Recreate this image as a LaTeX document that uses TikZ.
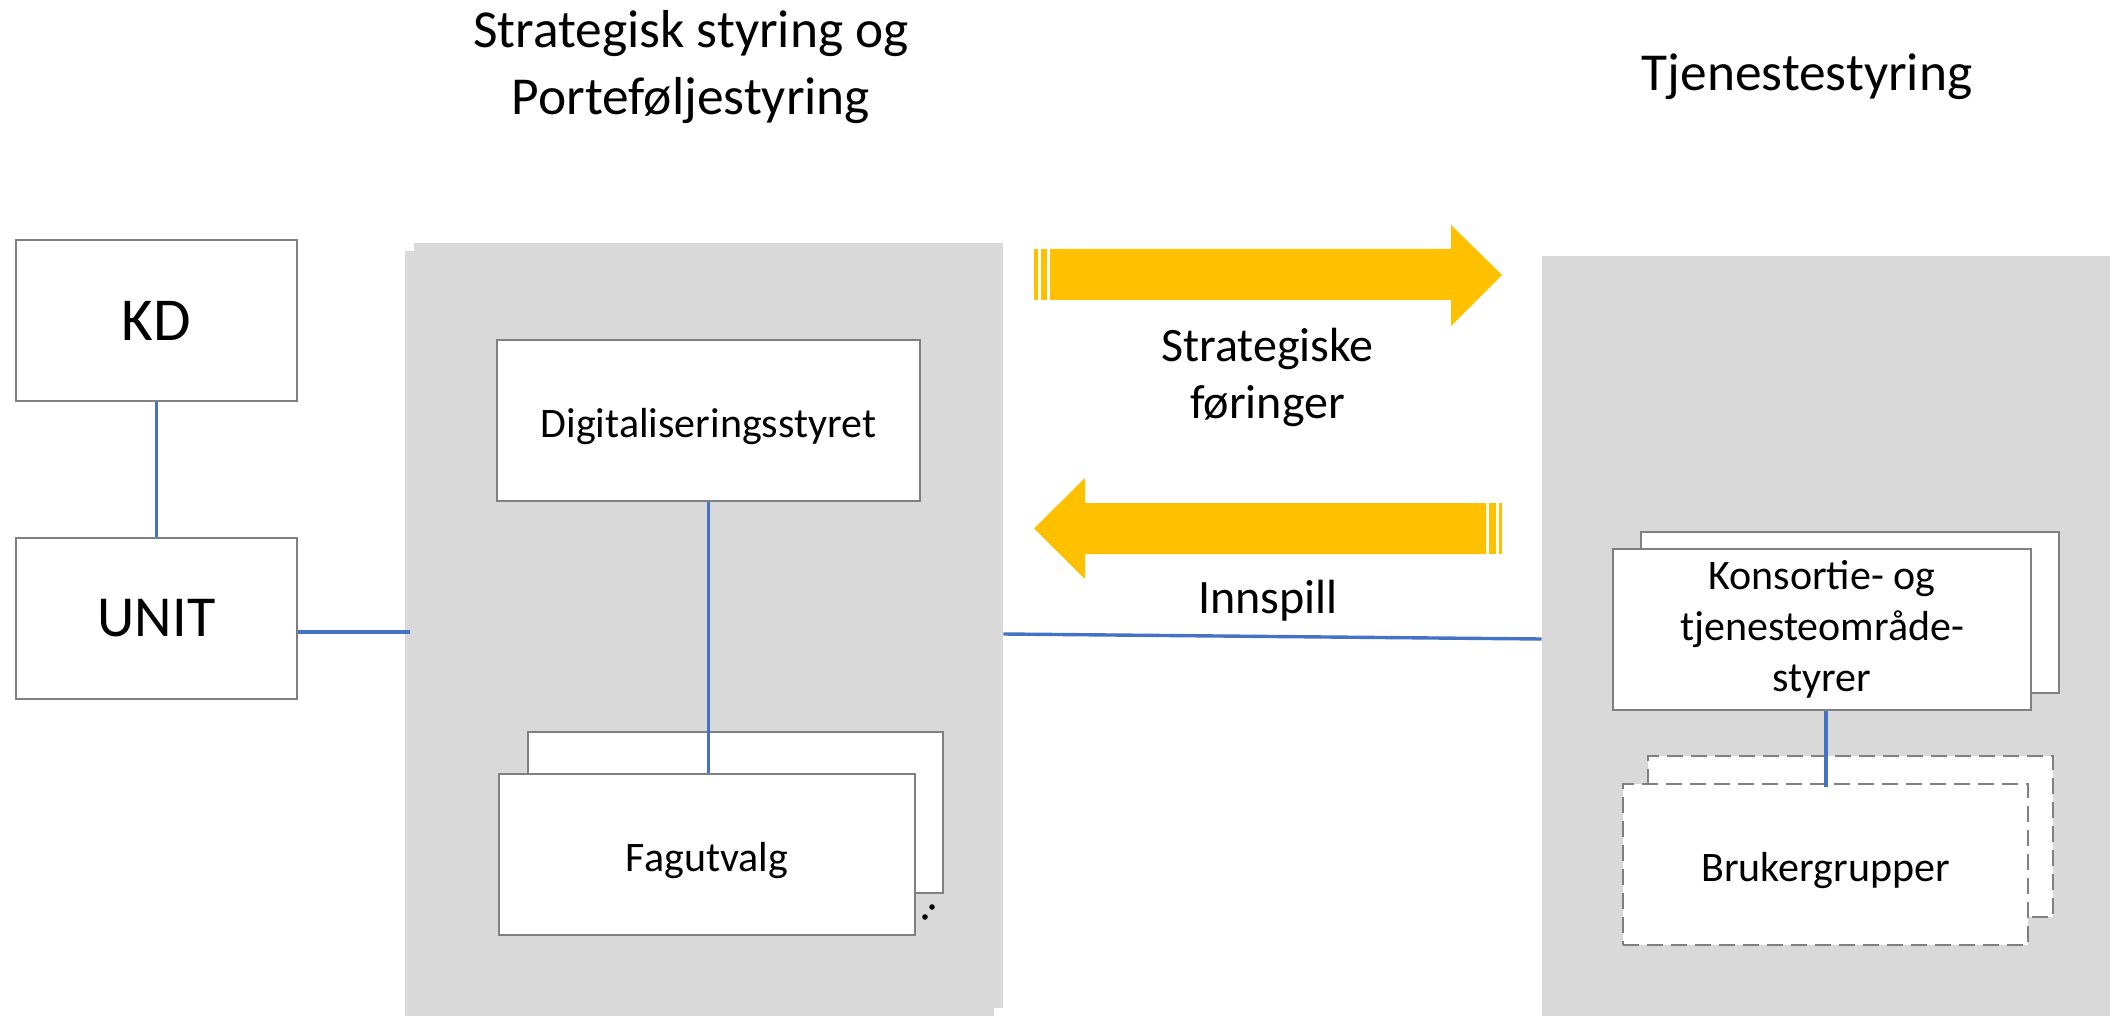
\documentclass[tikz,border=0pt]{standalone}
\usepackage{fontspec}
\setmainfont{Carlito}
\definecolor{panelgray}{HTML}{D9D9D9}
\definecolor{boxgray}{HTML}{808080}
\definecolor{linkblue}{HTML}{4472C4}
\definecolor{arrowgold}{HTML}{FFC000}
\begin{document}
\begin{tikzpicture}[x=0.5pt,y=-0.5pt,
  box/.style={draw=boxgray, line width=1.2pt, fill=white, inner sep=0pt,
    minimum height=80.5pt, align=center, font=\fontsize{21pt}{25.5pt}\selectfont},
  onetext/.style={text height=16.8pt, text depth=0pt},
  bigbox/.style={box, minimum width=140.5pt, font=\fontsize{29pt}{34pt}\selectfont},
  dbox/.style={box, dash pattern=on 8pt off 4pt},
  panel/.style={fill=panelgray, draw=none, inner sep=0pt},
  conn/.style={draw=linkblue, line width=1.7pt},
  titletext/.style={align=center, font=\fontsize{26.7pt}{33.5pt}\selectfont},
  arrowtext/.style={align=center, font=\fontsize{24pt}{28.5pt}\selectfont}]

\useasboundingbox (0,0) rectangle (2110,1016);

% panels
\node[panel, minimum width=294.5pt, minimum height=382.5pt] (LPa) at (699.5,633.5) {};
\node[panel, minimum width=294.5pt, minimum height=382.5pt] (LPb) at (708.5,625.5) {};
\node[panel, minimum width=284pt, minimum height=380pt] (RP) at (1826,636) {};

% titles
\node[titletext] (T1) at (691,67) {Strategisk styring og\\Porteføljestyring};
\node[titletext, anchor=base] (T2) at (1807,91) {Tjenestestyring};

% left boxes
\node[bigbox, font=\fontsize{30.5pt}{34pt}\selectfont] (KD) at (156.5,320.5) {KD};
\node[bigbox] (UNIT) at (156.5,618.5) {UNIT};

% left panel boxes
\node[box, onetext, minimum width=211.5pt] (DS) at (708.5,420.5) {Digitaliseringsstyret};
\node[box, minimum width=207.5pt] (FagB) at (735.5,812.5) {};
\draw[conn] (DS.south) -- (DS.south |- FagB.north) -- ++(0,42);
\node[box, onetext, minimum width=208pt] (Fag) at (707,854.5) {Fagutvalg};
\fill (932,907) circle[radius=1.4pt];
\fill (925,917) circle[radius=1.4pt];

% right panel boxes
\node[box, minimum width=209pt] (KonsB) at (1850,612.5) {};
\node[box, minimum width=209pt] (Kons) at (1822,629.5) {Konsortie- og\\tjenesteområde-\\styrer};
\node[dbox, minimum width=202.5pt] (BrukB) at (1850.5,836.5) {};
\node[dbox, onetext, minimum width=202.5pt] (Bruk) at (1825.5,864.5) {Brukergrupper};
\draw[conn] (Kons.south -| 1826,0) -- ([yshift=-2pt]Bruk.north -| 1826,0);

% connectors
\draw[conn] (KD.south) -- (UNIT.north);
\coordinate (u1) at ([yshift=-6.75pt]UNIT.east);
\draw[conn] (u1) -- ([xshift=2.5pt]u1 -| LPa.west);
\coordinate (l1) at ([yshift=-4.25pt]LPb.east);
\coordinate (r1) at ([yshift=-1.5pt]RP.west);
\draw[conn] (l1) -- (r1);

% arrows
\fill[arrowgold] (1050,249) -- (1451,249) -- (1451,225) -- (1502,275) -- (1451,326) -- (1451,300) -- (1050,300) -- cycle;
\fill[arrowgold] (1034,249) rectangle (1038,300);
\fill[arrowgold] (1041,249) rectangle (1047,300);
\fill[arrowgold] (1486,503) -- (1085,503) -- (1085,478) -- (1034,528.5) -- (1085,579) -- (1085,554) -- (1486,554) -- cycle;
\fill[arrowgold] (1489,503) rectangle (1496,554);
\fill[arrowgold] (1499,503) rectangle (1502,554);

\node[arrowtext] (SF) at (1267.5,377) {Strategiske\\føringer};
\node[arrowtext, anchor=base] (IN) at (1268,613) {Innspill};
\end{tikzpicture}
\end{document}
